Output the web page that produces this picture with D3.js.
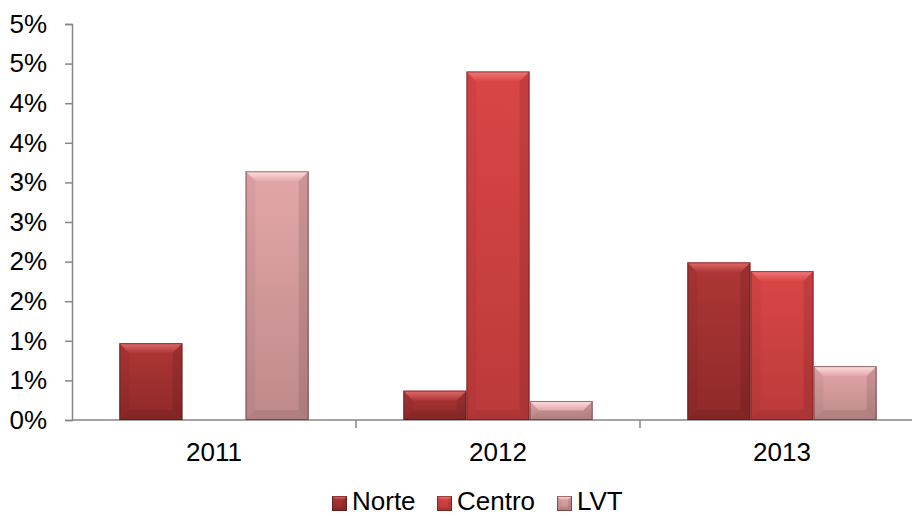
<!DOCTYPE html>
<html lang="pt">
<head>
<meta charset="UTF-8">
<title>Norte / Centro / LVT</title>
<script src="https://d3js.org/d3.v7.min.js"></script>
<style>
  body { margin: 0; background: #fff; overflow: hidden; }
  svg text { font-family: "Liberation Sans", Arial, sans-serif; fill: #000; }
  .axis path, .axis line { stroke: #868686; stroke-width: 1.5px; }
</style>
</head>
<body>
<div id="chart"></div>
<script>
// data
const years = ["2011", "2012", "2013"];
const seriesNames = ["Norte", "Centro", "LVT"];
const norte  = [0.0097, 0.0037, 0.0199];
const centro = [0, 0.0440, 0.0188];
const lvt    = [0.0314, 0.0024, 0.0068];
const yTicks = [0, 0.005, 0.01, 0.015, 0.02, 0.025, 0.03, 0.035, 0.04, 0.045, 0.05];

// colours: light (top), dark (bottom), highlight for the top bevel
const colors = {
  Norte:  { light: "#ae3636", dark: "#8f2929", hi: "#e06a6a" },
  Centro: { light: "#da4646", dark: "#bc3a3a", hi: "#f27a7a" },
  LVT:    { light: "#e3a6a9", dark: "#bf8a8b", hi: "#fde0e0" }
};

const W = 912, H = 516;
const margin = { left: 72, top: 24, right: -12, bottom: 96 };
const innerW = W - margin.left - margin.right;
const innerH = H - margin.top - margin.bottom;
const fontSize = "26px";

const svg = d3.select("#chart").append("svg")
  .attr("width", W).attr("height", H);

const defs = svg.append("defs");
seriesNames.forEach(s => {
  const g = defs.append("linearGradient").attr("id", "g-" + s)
    .attr("x1", 0).attr("y1", 0).attr("x2", 0).attr("y2", 1);
  g.append("stop").attr("offset", "0%").attr("stop-color", colors[s].light);
  g.append("stop").attr("offset", "100%").attr("stop-color", colors[s].dark);
  const h = defs.append("linearGradient").attr("id", "h-" + s)
    .attr("x1", 0).attr("y1", 0).attr("x2", 0).attr("y2", 1);
  h.append("stop").attr("offset", "0%").attr("stop-color", colors[s].hi);
  h.append("stop").attr("offset", "100%").attr("stop-color", colors[s].light);
});

const g = svg.append("g").attr("transform", `translate(${margin.left},${margin.top})`);

const x0 = d3.scaleBand().domain(years).range([0, innerW]).paddingInner(0).paddingOuter(0);
const x1 = d3.scaleBand().domain(seriesNames).range([0, x0.bandwidth()]).paddingInner(0).paddingOuter(0.75);
const y = d3.scaleLinear().domain([0, 0.05]).range([innerH, 0]);

const fmt = d => Math.round(d * 100) + "%";

// y axis
const yAxis = g.append("g").attr("class", "axis")
  .call(d3.axisLeft(y).tickValues(yTicks).tickFormat(fmt).tickSize(7).tickSizeOuter(7).tickPadding(18));
yAxis.selectAll("text").style("font-size", fontSize);

// x axis
const xAxis = g.append("g").attr("class", "axis")
  .attr("transform", `translate(0,${innerH})`)
  .call(d3.axisBottom(x0).tickSize(0).tickPadding(23));
xAxis.select(".domain").attr("d", `M0,0H${innerW}`);
xAxis.selectAll("text").style("font-size", fontSize);
// category boundary ticks
g.append("g").attr("class", "axis")
  .selectAll("line").data(years.slice(1)).join("line")
  .attr("x1", d => x0(d)).attr("x2", d => x0(d))
  .attr("y1", innerH).attr("y2", innerH + 8);

const rows = years.map((yr, i) => ({ year: yr, Norte: norte[i], Centro: centro[i], LVT: lvt[i] }));

function bevelBar(sel, s, bx, by, bw, bh, bevel) {
  const b = Math.min(bevel, bh / 2, bw / 4);
  sel.append("rect").attr("x", bx).attr("y", by).attr("width", bw).attr("height", bh)
    .attr("fill", `url(#g-${s})`);
  // top bevel (highlight)
  sel.append("path")
    .attr("d", `M${bx},${by}H${bx + bw}L${bx + bw - b},${by + b}H${bx + b}Z`)
    .attr("fill", `url(#h-${s})`);
  // left bevel
  sel.append("path")
    .attr("d", `M${bx},${by}L${bx + b},${by + b}V${by + bh - b}L${bx},${by + bh}Z`)
    .attr("fill", "#000").attr("opacity", 0.04);
  // right bevel (shadow)
  sel.append("path")
    .attr("d", `M${bx + bw},${by}L${bx + bw - b},${by + b}V${by + bh - b}L${bx + bw},${by + bh}Z`)
    .attr("fill", "#000").attr("opacity", 0.1);
  // bottom bevel
  sel.append("path")
    .attr("d", `M${bx},${by + bh}L${bx + b},${by + bh - b}H${bx + bw - b}L${bx + bw},${by + bh}Z`)
    .attr("fill", "#000").attr("opacity", 0.08);
  sel.append("rect").attr("x", bx + 0.5).attr("y", by + 0.5)
    .attr("width", Math.max(0, bw - 1)).attr("height", Math.max(0, bh - 1))
    .attr("fill", "none").attr("stroke", "#4a1414").attr("stroke-opacity", 0.55);
}

const groups = g.selectAll(".grp").data(rows).join("g")
  .attr("class", "grp")
  .attr("transform", d => `translate(${x0(d.year)},0)`);

groups.each(function (d) {
  const grp = d3.select(this);
  seriesNames.forEach(s => {
    if (!d[s]) return;
    bevelBar(grp.append("g"), s, x1(s), y(d[s]), x1.bandwidth(), innerH - y(d[s]), 10);
  });
});

// legend (nudged up a little so the text is not clipped by the bottom edge)
const legendX = [332, 437, 557];
const legend = svg.append("g");
seriesNames.forEach((s, i) => {
  const lg = legend.append("g").attr("transform", `translate(${legendX[i]},496)`);
  bevelBar(lg, s, 0, 0, 15, 15, 4);
  lg.append("text").attr("x", 20).attr("y", 14).style("font-size", fontSize).text(s);
});
</script>
</body>
</html>
